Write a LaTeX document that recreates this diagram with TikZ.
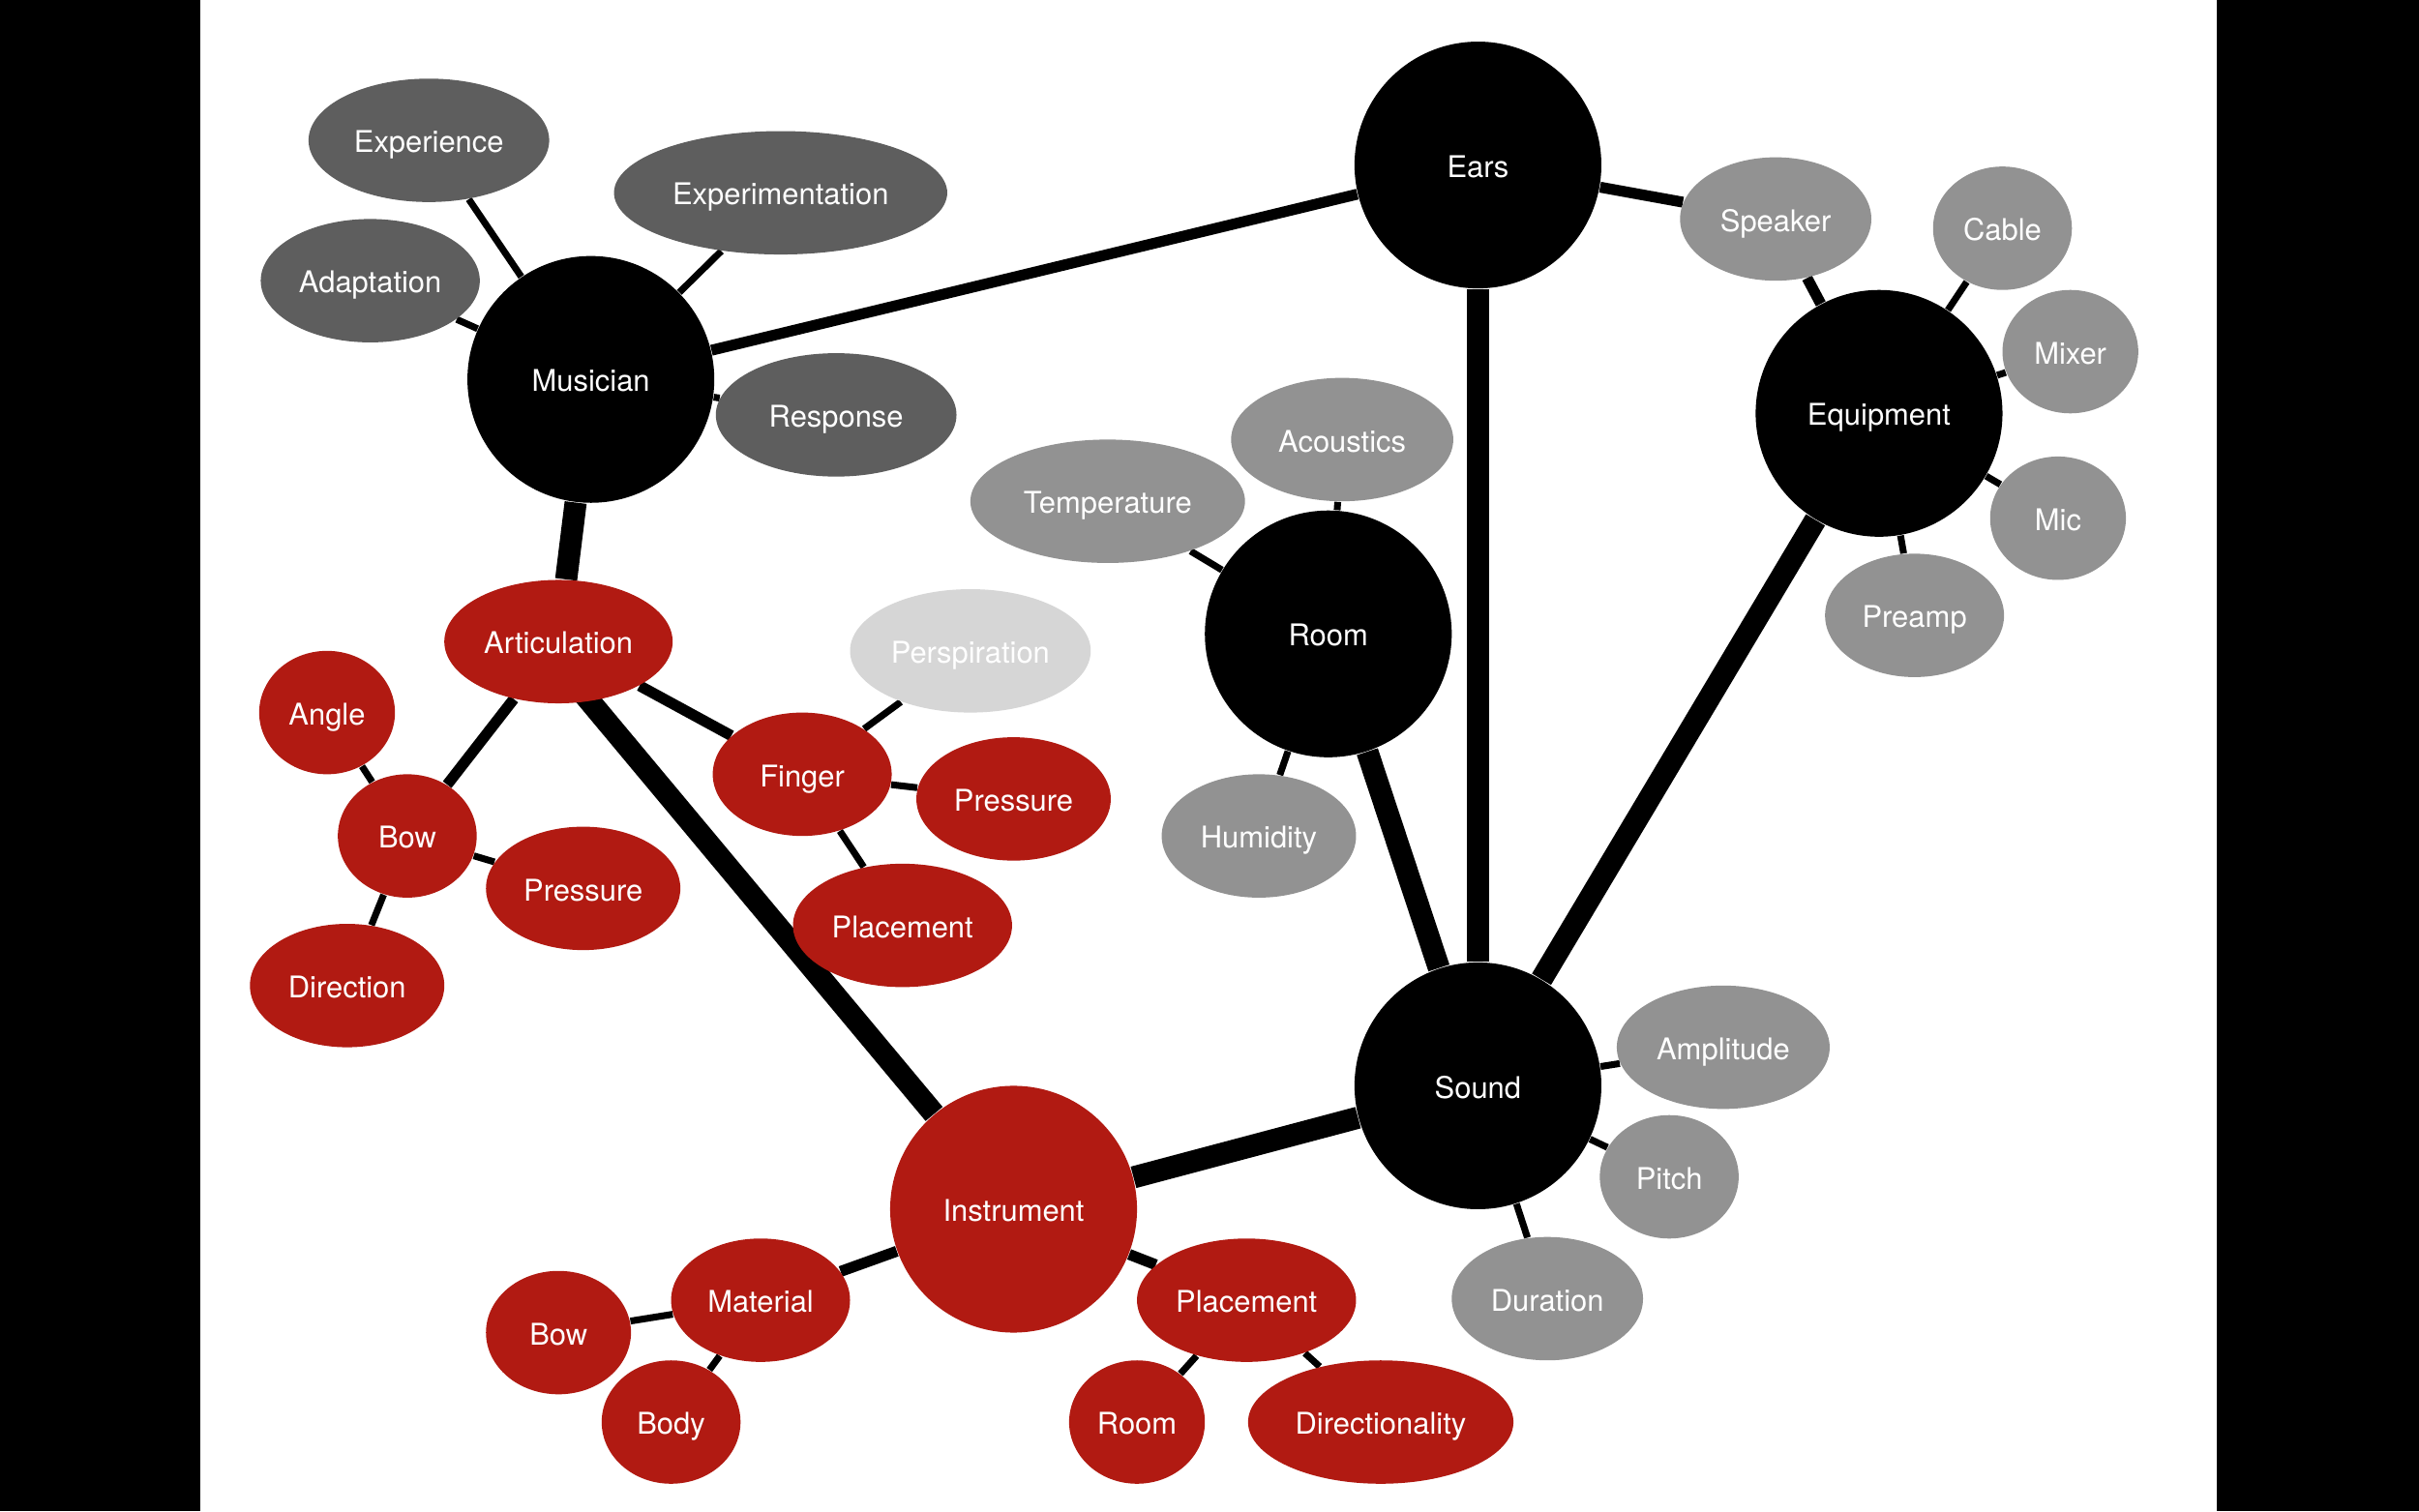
\documentclass[tikz,border=0pt]{standalone}
\usepackage{fontspec}
\setmainfont{TeX Gyre Heros}
\usepackage{xcolor}
\definecolor{darkGrey}{HTML}{5E5E5E}
\definecolor{midGrey}{HTML}{929292}
\definecolor{paleGrey}{HTML}{D6D6D6}
\definecolor{brickRed}{HTML}{B11A12}
\usetikzlibrary{shapes.geometric}
\usetikzlibrary{backgrounds}
\def\pxu{0.015944cm}

\begin{document}
\begin{tikzpicture}[x = \pxu, y = -\pxu,
	font = \fontsize{8.8}{10.5}\selectfont,
	hub/.style = {circle, fill = #1, text = white, inner sep = 0pt, text height = 0.72em, text depth = 0pt, minimum size = 160*\pxu},
	leaf/.style 2 args = {ellipse, fill = #1, text = white, inner sep = 0pt, text height = 0.72em, text depth = 0pt, minimum width = #2*\pxu, minimum height = 80*\pxu},
	twig/.style = {line width = 2pt},
	branch/.style = {line width = 3.2pt},
	trunk/.style = {line width = 6.5pt}]
	\useasboundingbox (0, 0) rectangle (1568, 980);

	%% Hubs
	\node[hub = black] (ears) at (958, 107) {Ears};
	\node[hub = black] (musician) at (383, 246) {Musician};
	\node[hub = black] (equipment) at (1218, 268) {Equipment};
	\node[hub = black] (room) at (861, 411) {Room};
	\node[hub = black] (sound) at (958, 704) {Sound};
	\node[hub = brickRed] (instrument) at (657, 784) {Instrument};

	%% Musician leaves
	\node[leaf = {darkGrey}{156}] (experience) at (278, 91) {Experience};
	\node[leaf = {darkGrey}{216}] (experimentation) at (506, 125) {Experimentation};
	\node[leaf = {darkGrey}{142}] (adaptation) at (240, 182) {Adaptation};
	\node[leaf = {darkGrey}{156}] (response) at (542, 269) {Response};

	%% Equipment leaves
	\node[leaf = {midGrey}{124}] (speaker) at (1151, 142) {Speaker};
	\node[leaf = {midGrey}{90}] (cable) at (1298, 148) {Cable};
	\node[leaf = {midGrey}{88}] (mixer) at (1342, 228) {Mixer};
	\node[leaf = {midGrey}{88}] (mic) at (1334, 336) {Mic};
	\node[leaf = {midGrey}{116}] (preamp) at (1241, 399) {Preamp};

	%% Room leaves
	\node[leaf = {midGrey}{144}] (acoustics) at (870, 285) {Acoustics};
	\node[leaf = {midGrey}{178}] (temperature) at (718, 325) {Temperature};
	\node[leaf = {midGrey}{126}] (humidity) at (816, 542) {Humidity};

	%% Sound leaves
	\node[leaf = {midGrey}{138}] (amplitude) at (1117, 679) {Amplitude};
	\node[leaf = {midGrey}{90}] (pitch) at (1082, 763) {Pitch};
	\node[leaf = {midGrey}{124}] (duration) at (1003, 842) {Duration};

	%% Articulation
	\node[leaf = {brickRed}{148}] (articulation) at (362, 416) {Articulation};
	\node[leaf = {brickRed}{88}] (angle) at (212, 462) {Angle};
	\node[leaf = {brickRed}{90}] (bow) at (264, 542) {Bow};
	\node[leaf = {brickRed}{126}] (bowpressure) at (378, 576) {Pressure};
	\node[leaf = {brickRed}{126}] (direction) at (225, 639) {Direction};
	\node[leaf = {brickRed}{116}] (finger) at (520, 502) {Finger};
	\node[leaf = {paleGrey}{156}] (perspiration) at (629, 422) {Perspiration};
	\node[leaf = {brickRed}{126}] (fingerpressure) at (657, 518) {Pressure};
	\node[leaf = {brickRed}{142}] (fingerplacement) at (585, 600) {Placement};

	%% Instrument leaves
	\node[leaf = {brickRed}{116}] (material) at (493, 843) {Material};
	\node[leaf = {brickRed}{94}] (instrbow) at (362, 864) {Bow};
	\node[leaf = {brickRed}{90}] (body) at (435, 922) {Body};
	\node[leaf = {brickRed}{142}] (placement) at (808, 843) {Placement};
	\node[leaf = {brickRed}{88}] (placeroom) at (737, 922) {Room};
	\node[leaf = {brickRed}{172}] (directionality) at (895, 922) {Directionality};

	\begin{scope}[on background layer] % From background library
		\fill[black] (0, 0) rectangle (1568, 980);
		\fill[white] (130, 0) rectangle (1437, 980);

		%% Edges...
		% ... between hubs
		\draw[branch] (musician) -- (ears);
		\draw[trunk] (ears) -- (sound);
		\draw[trunk] (equipment) -- (sound);
		\draw[trunk] (room) -- (sound);
		\draw[trunk] (instrument) -- (sound);
		\draw[trunk] (musician) -- (articulation);
		\draw[trunk] ([xshift = -12*\pxu]articulation.center) -- (instrument);
		\draw[branch] (ears) -- (speaker);
		\draw[branch] (speaker) -- (equipment);

		% ... to leaves
		\foreach \leafname in {experience, experimentation, adaptation, response}
			\draw[twig] (musician) -- (\leafname);
		\foreach \leafname in {cable, mixer, mic, preamp}
			\draw[twig] (equipment) -- (\leafname);
		\foreach \leafname in {acoustics, temperature, humidity}
			\draw[twig] (room) -- (\leafname);
		\foreach \leafname in {amplitude, pitch, duration}
			\draw[twig] (sound) -- (\leafname);

		\draw[branch] (articulation) -- (bow);
		\draw[branch] (articulation) -- (finger);
		\foreach \leafname in {angle, bowpressure, direction}
			\draw[twig] (bow) -- (\leafname);
		\foreach \leafname in {perspiration, fingerpressure, fingerplacement}
			\draw[twig] (finger) -- (\leafname);

		\draw[branch] (instrument) -- (material);
		\draw[branch] (instrument) -- (placement);
		\foreach \leafname in {instrbow, body}
			\draw[twig] (material) -- (\leafname);
		\foreach \leafname in {placeroom, directionality}
			\draw[twig] (placement) -- (\leafname);
	\end{scope}
\end{tikzpicture}
\end{document}
